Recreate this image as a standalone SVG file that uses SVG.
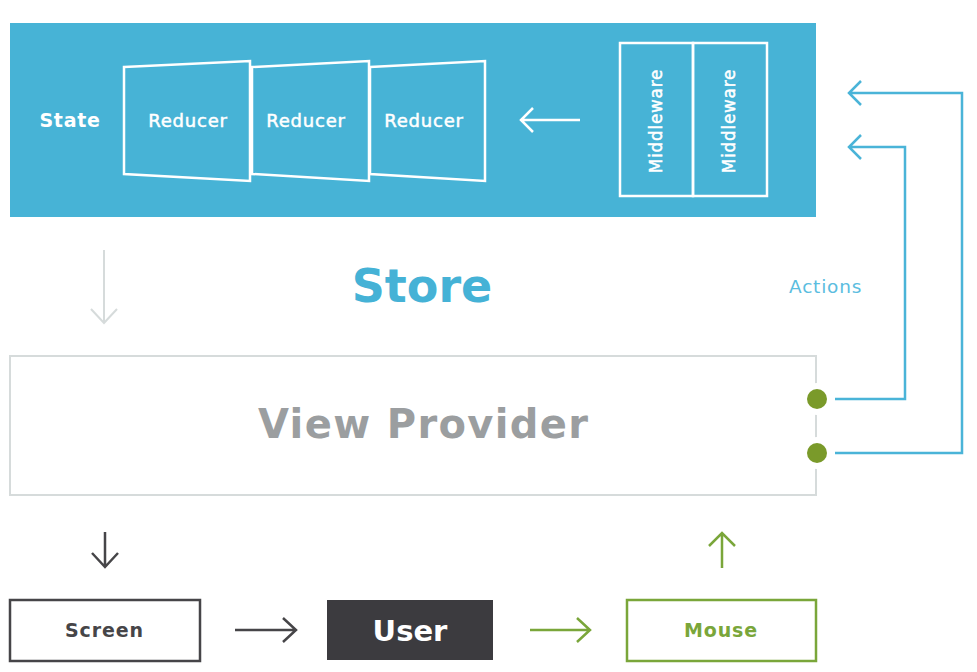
<svg xmlns="http://www.w3.org/2000/svg" width="977" height="672" viewBox="0 0 977 672">
<style>
.w{fill:none;stroke:#ffffff;stroke-width:2.5;stroke-linejoin:miter}
.wt{fill:#ffffff;stroke:#ffffff;stroke-width:0.5;font-family:"DejaVu Sans",sans-serif;font-size:18px;letter-spacing:0.8px}
.blue{fill:none;stroke:#4ab4d8;stroke-width:2.5}
.gray{fill:none;stroke:#d6dbdb;stroke-width:2}
.dark{fill:none;stroke:#464548;stroke-width:2.5}
.green{fill:none;stroke:#7aa63a;stroke-width:2.5}
.b{font-family:"DejaVu Sans",sans-serif;font-weight:bold;text-anchor:middle}
</style>
<rect x="0" y="0" width="977" height="672" fill="#ffffff"/>
<g id="store">
<rect x="10" y="23" width="806" height="194" fill="#47b3d6"/>
<text x="70" y="126.5" class="b" style="fill:#ffffff;font-size:19px;letter-spacing:0.7px">State</text>
</g>
<g id="reducer1">
<polygon class="w" points="124,67 250,61 250,181 124,174"/>
<text x="188" y="126.5" class="wt" text-anchor="middle">Reducer</text>
</g>
<g id="reducer2">
<polygon class="w" points="252,67 369,61 369,181 252,174"/>
<text x="306" y="126.5" class="wt" text-anchor="middle">Reducer</text>
</g>
<g id="reducer3">
<polygon class="w" points="370,67 485,61 485,181 370,174"/>
<text x="424" y="126.5" class="wt" text-anchor="middle">Reducer</text>
</g>
<g id="middleware1">
<rect class="w" x="620" y="43" width="73" height="153"/>
<text transform="translate(662,121) rotate(-90)" class="wt" style="font-size:16.8px" text-anchor="middle">Middleware</text>
</g>
<g id="middleware2">
<rect class="w" x="693" y="43" width="74" height="153"/>
<text transform="translate(735,121) rotate(-90)" class="wt" style="font-size:16.8px" text-anchor="middle">Middleware</text>
</g>
<g id="store-label">
<text x="422" y="302" class="b" style="fill:#45b2d6;font-size:46px">Store</text>
</g>
<g id="view-provider">
<rect x="10" y="356" width="806" height="139" fill="#ffffff" stroke="#d6dbdb" stroke-width="2"/>
<text x="423" y="438" class="b" style="fill:#9b9ea0;font-size:40px" textLength="330" lengthAdjust="spacing">View Provider</text>
</g>
<g id="screen">
<rect x="10" y="600" width="190" height="61" fill="#ffffff" stroke="#464548" stroke-width="2.5"/>
<text x="104.5" y="637" class="b" style="fill:#464548;font-size:19px;letter-spacing:0.9px">Screen</text>
</g>
<g id="user">
<rect x="327" y="600" width="166" height="60" fill="#3c3b3f"/>
<text x="410" y="641" class="b" style="fill:#ffffff;font-size:29px">User</text>
</g>
<g id="mouse">
<rect x="627" y="600" width="189" height="61" fill="#ffffff" stroke="#7aa63a" stroke-width="2.5"/>
<text x="721" y="637" class="b" style="fill:#7aa63a;font-size:19px;letter-spacing:0.9px">Mouse</text>
</g>
<g id="connectors">
<path class="w" d="M580,120 H521 M533,108 L521,120 L533,132"/>
<path class="gray" d="M104,250 V323 M91,309 L104,323 L117,309"/>
<path class="dark" d="M105,532 V567 M92,553 L105,567 L118,553"/>
<path class="dark" d="M235,630 H296 M283,618 L296,630 L283,642"/>
<path class="green" d="M530,630 H590 M577,618 L590,630 L577,642"/>
<path class="green" d="M722,568 V533 M709,546 L722,533 L735,546"/>
<path class="blue" d="M835,399 H905 V147 H849 M861,135 L849,147 L861,159"/>
<path class="blue" d="M835,453 H962 V93 H849 M861,81 L849,93 L861,105"/>
<text x="789" y="293" style="fill:#5bbde0;font-family:'DejaVu Sans',sans-serif;font-size:18.5px;letter-spacing:0.8px">Actions</text>
<circle cx="817" cy="399" r="16" fill="#ffffff"/>
<circle cx="817" cy="453" r="16" fill="#ffffff"/>
<circle cx="817" cy="399" r="10" fill="#7a9a2a"/>
<circle cx="817" cy="453" r="10" fill="#7a9a2a"/>
</g>
</svg>
